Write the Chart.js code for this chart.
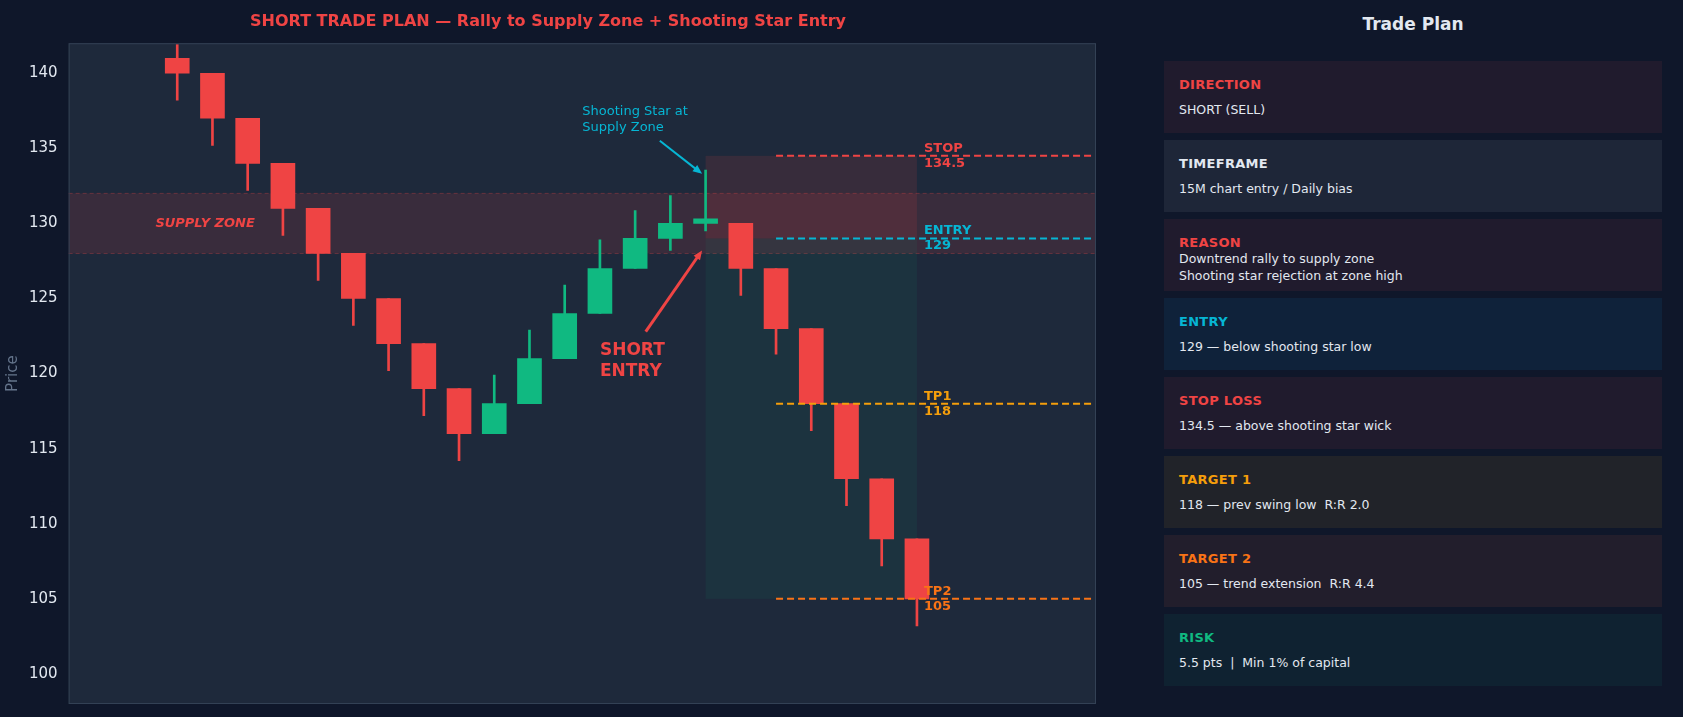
<!DOCTYPE html>
<html><head><meta charset="utf-8">
<script src="https://cdn.jsdelivr.net/npm/chart.js@4/dist/chart.umd.min.js"></script>
<style>
  body{margin:0;background:#0f172a;font-family:"DejaVu Sans",sans-serif;width:1683px;height:717px;overflow:hidden;position:relative}
  #wrap{position:absolute;left:0;top:0;width:1120px;height:717px}
  #side{position:absolute;left:1164px;top:0;width:498px}
  #side h2{margin:0;position:absolute;top:14px;width:100%;text-align:center;color:#e2e8f0;font-size:17px;font-weight:bold}
  .box{position:absolute;left:0;width:498px;height:72px;box-sizing:border-box;padding:16px 15px 0 15px}
  .box .k{font-size:13px;font-weight:bold;letter-spacing:.3px}
  .box .v{font-size:12.5px;color:#e2e8f0;margin-top:9px;line-height:17px;white-space:pre}
  .box .v.tight{margin-top:0}
</style></head>
<body>
<div id="wrap"><canvas id="ch" width="1120" height="717"></canvas></div>
<div id="side"><h2>Trade Plan</h2></div>
<script>
// candles (index 0..21)
const opens  = [141,140,137,134,131,128,125,122,119,116,118,121,124,127,129,130,130,127,123,118,113,109];
const closes = [140,137,134,131,128,125,122,119,116,118,121,124,127,129,130,130.3,127,123,118,113,109,105];
const highs  = [141.9,140,137,134,131,128,125,122,119,119.9,122.9,125.9,128.9,130.85,131.85,133.55,130,127,123,118,113,109];
const lows   = [138.2,135.2,132.2,129.2,126.2,123.2,120.2,117.2,114.2,116,118,121,124,127,128.2,129.5,125.2,121.3,116.2,111.2,107.2,103.2];
const yTicks = [100,105,110,115,120,125,130,135,140];

const supplyZone = [128,132];
const stopLvl = 134.5, entryLvl = 129, tp1 = 118, tp2 = 105;

const plan = [
  ['DIRECTION','SHORT (SELL)','#ef4444','#201b2d'],
  ['TIMEFRAME','15M chart entry / Daily bias','#e2e8f0','#1e2638'],
  ['REASON','Downtrend rally to supply zone\nShooting star rejection at zone high','#ef4444','#201b2d'],
  ['ENTRY','129 — below shooting star low','#06b6d4','#0f223a'],
  ['STOP LOSS','134.5 — above shooting star wick','#ef4444','#201b2d'],
  ['TARGET 1','118 — prev swing low  R:R 2.0','#f59e0b','#212329'],
  ['TARGET 2','105 — trend extension  R:R 4.4','#f97316','#221e2c'],
  ['RISK','5.5 pts  |  Min 1% of capital','#10b981','#0f2231']
];

const side = document.getElementById('side');
plan.forEach((p,i) => {
  const d = document.createElement('div');
  d.className = 'box';
  d.style.top = (61 + i*79) + 'px';
  d.style.background = p[3];
  d.innerHTML = `<div class="k" style="color:${p[2]}">${p[0]}</div><div class="v${i===2?' tight':''}">${p[1]}</div>`;
  side.appendChild(d);
});

const RED='#ef4444', GREEN='#10b981';
const col = opens.map((o,i) => closes[i] >= o ? GREEN : RED);
const idx = opens.map((_,i) => i);

const overlay = {
  id:'overlay',
  beforeDatasetsDraw(c){
    const {ctx, chartArea:a, scales:{x,y}} = c;
    ctx.save();
    ctx.fillStyle = '#1e293b';
    ctx.fillRect(a.left,a.top,a.right-a.left,a.bottom-a.top);
    // supply zone
    const zt = y.getPixelForValue(supplyZone[1]), zb = y.getPixelForValue(supplyZone[0]);
    ctx.fillStyle = 'rgba(239,68,68,0.13)';
    ctx.fillRect(a.left, zt, a.right-a.left, zb-zt);
    ctx.strokeStyle = 'rgba(239,68,68,0.3)'; ctx.lineWidth = 1; ctx.setLineDash([4,3]);
    [zt,zb].forEach(p => { ctx.beginPath(); ctx.moveTo(a.left,p); ctx.lineTo(a.right,p); ctx.stroke(); });
    ctx.setLineDash([]);
    ctx.fillStyle = RED; ctx.font = 'italic bold 13px "DejaVu Sans"'; ctx.textBaseline = 'middle';
    ctx.fillText('SUPPLY ZONE', x.getPixelForValue(-0.62), y.getPixelForValue(130));
    // trade box
    const bl = x.getPixelForValue(15), br = x.getPixelForValue(21);
    const ps = y.getPixelForValue(stopLvl), pe = y.getPixelForValue(entryLvl), pt = y.getPixelForValue(tp2);
    ctx.fillStyle = 'rgba(239,68,68,0.12)'; ctx.fillRect(bl, ps, br-bl, pe-ps);
    ctx.fillStyle = 'rgba(16,185,129,0.07)'; ctx.fillRect(bl, pe, br-bl, pt-pe);
    ctx.restore();
  },
  afterDatasetsDraw(c){
    const {ctx, chartArea:a, scales:{x,y}} = c;
    ctx.save();
    const lines = [[stopLvl,'#ef4444','STOP','134.5'],[entryLvl,'#06b6d4','ENTRY','129'],[tp1,'#f59e0b','TP1','118'],[tp2,'#f97316','TP2','105']];
    const lx = x.getPixelForValue(17), tx = x.getPixelForValue(21.2);
    lines.forEach(l => {
      const p = y.getPixelForValue(l[0]);
      ctx.strokeStyle = l[1]; ctx.lineWidth = 2; ctx.setLineDash([7,4]);
      ctx.beginPath(); ctx.moveTo(lx,p); ctx.lineTo(a.right,p); ctx.stroke();
      ctx.setLineDash([]);
      ctx.fillStyle = l[1]; ctx.font = 'bold 13px "DejaVu Sans"';
      ctx.textBaseline = 'bottom'; ctx.fillText(l[2], tx, p-1);
      ctx.textBaseline = 'top'; ctx.fillText(l[3], tx, p+1);
    });
    function arrow(x1,y1,x2,y2,color,w){
      const X1=x.getPixelForValue(x1),Y1=y.getPixelForValue(y1),X2=x.getPixelForValue(x2),Y2=y.getPixelForValue(y2);
      const ang=Math.atan2(Y2-Y1,X2-X1);
      ctx.strokeStyle=color; ctx.fillStyle=color; ctx.lineWidth=w;
      ctx.beginPath(); ctx.moveTo(X1,Y1); ctx.lineTo(X2-Math.cos(ang)*4,Y2-Math.sin(ang)*4); ctx.stroke();
      ctx.beginPath(); ctx.moveTo(X2,Y2);
      ctx.lineTo(X2-10*Math.cos(ang-0.4),Y2-10*Math.sin(ang-0.4));
      ctx.lineTo(X2-10*Math.cos(ang+0.4),Y2-10*Math.sin(ang+0.4)); ctx.closePath(); ctx.fill();
    }
    ctx.fillStyle = '#06b6d4'; ctx.font = '13px "DejaVu Sans"'; ctx.textBaseline = 'top';
    ctx.fillText('Shooting Star at', x.getPixelForValue(11.5), y.getPixelForValue(137.9));
    ctx.fillText('Supply Zone', x.getPixelForValue(11.5), y.getPixelForValue(137.9)+16);
    arrow(13.7,135.5,14.9,133.3,'#06b6d4',2);
    ctx.fillStyle = RED; ctx.font = 'bold 17px "DejaVu Sans"';
    ctx.fillText('SHORT', x.getPixelForValue(12.0), y.getPixelForValue(122.1));
    ctx.fillText('ENTRY', x.getPixelForValue(12.0), y.getPixelForValue(122.1)+21);
    arrow(13.3,122.8,14.9,128.2,RED,3);
    ctx.strokeStyle = '#334155'; ctx.lineWidth = 1;
    ctx.strokeRect(a.left+0.5,a.top+0.5,a.right-a.left-1,a.bottom-a.top-1);
    ctx.restore();
  }
};

new Chart(document.getElementById('ch'), {
  type:'bar',
  data:{
    labels: idx,
    datasets:[
      {data: idx.map(i => [lows[i], highs[i]]), backgroundColor: col, barThickness: 2, grouped:false, order:2},
      {data: idx.map(i => [opens[i], closes[i]]), backgroundColor: col, barThickness: 24, grouped:false, order:1, minBarLength:4}
    ]
  },
  options:{
    responsive:false, animation:false,
    devicePixelRatio:1,
    layout:{padding:{top:0,bottom:13,left:0,right:24}},
    plugins:{
      legend:{display:false}, tooltip:{enabled:false},
      title:{display:true, text:'SHORT TRADE PLAN — Rally to Supply Zone + Shooting Star Entry', color:'#ef4444',
        font:{family:'"DejaVu Sans"', size:16, weight:'bold'}, padding:{top:12,bottom:12}}
    },
    scales:{
      x:{type:'linear', min:-1, max:24, display:false},
      y:{min:98, max:142, afterBuildTicks: s => { s.ticks = yTicks.map(v => ({value:v})); },
        grid:{display:false}, border:{display:false},
        ticks:{color:'#e2e8f0', font:{family:'"DejaVu Sans"', size:15}},
        title:{display:true, text:'Price', color:'#64748b', font:{family:'"DejaVu Sans"', size:15}}}
    }
  },
  plugins:[overlay]
});
</script>
</body></html>
